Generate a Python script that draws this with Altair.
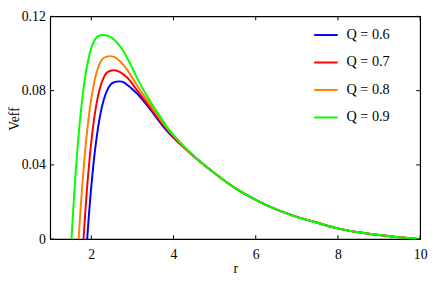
import altair as alt
import pandas as pd

# ---- data ----
q_labels = ["Q = 0.6", "Q = 0.7", "Q = 0.8", "Q = 0.9"]
q_colors = ["#0000ff", "#ff0000", "#ff8000", "#00ff00"]

r_q06 = [1.90, 1.939, 1.991, 2.054, 2.127, 2.21, 2.303, 2.408, 2.532, 2.687, 2.8, 2.885, 3.0, 3.12, 3.4, 3.84, 4.32, 5.0]
v_q06 = [0.0, 0.0122, 0.0263, 0.0408, 0.0543, 0.0661, 0.0751, 0.0812, 0.0843, 0.0850, 0.0843, 0.0829, 0.0808, 0.0783, 0.0708, 0.0583, 0.0480, 0.0355]

r_q07 = [1.811, 1.849, 1.899, 1.959, 2.029, 2.109, 2.199, 2.299, 2.419, 2.568, 2.70, 2.885, 3.12, 3.4, 3.84, 4.32, 5.0]
v_q07 = [0.0, 0.0130, 0.0282, 0.0436, 0.0581, 0.0707, 0.0805, 0.0869, 0.0903, 0.0910, 0.0900, 0.0868, 0.0800, 0.0718, 0.0592, 0.0482, 0.0355]

r_q08 = [1.692, 1.73, 1.78, 1.84, 1.91, 1.99, 2.08, 2.18, 2.30, 2.449, 2.55, 2.65, 2.77, 2.885, 3.12, 3.4, 3.84, 4.32, 5.0]
v_q08 = [0.0, 0.0133, 0.0289, 0.0451, 0.0606, 0.0744, 0.0855, 0.0932, 0.0976, 0.0986, 0.0982, 0.0968, 0.0941, 0.0908, 0.0826, 0.0735, 0.0598, 0.0483, 0.0355]

r_q09 = [1.518, 1.56, 1.62, 1.68, 1.75, 1.83, 1.92, 2.01, 2.10, 2.20, 2.29, 2.40, 2.50, 2.60, 2.73, 2.90, 3.0, 3.12, 3.4, 3.6, 3.84, 4.32, 5.0]
v_q09 = [0.0, 0.0160, 0.0361, 0.0532, 0.0697, 0.0843, 0.0961, 0.1036, 0.1079, 0.1097, 0.1100, 0.1096, 0.1084, 0.1065, 0.1030, 0.0965, 0.0920, 0.0865, 0.0755, 0.0685, 0.0605, 0.0485, 0.0355]

# common tail (all four curves coincide here)
r_tail = [5.5, 6.0, 6.5, 7.0, 7.5, 8.0, 8.5, 9.0, 9.5, 10.0]
v_tail = [0.0275, 0.0212, 0.0160, 0.0120, 0.0088, 0.0058, 0.0037, 0.0022, 0.0010, 0.0]

x_ticks = [2, 4, 6, 8, 10]
y_ticks = [0, 0.04, 0.08, 0.12]

rows = []
for lab, rs, vs in zip(q_labels, [r_q06, r_q07, r_q08, r_q09], [v_q06, v_q07, v_q08, v_q09]):
    for r, v in zip(rs + r_tail, vs + v_tail):
        rows.append({"r": r, "V": v, "Q": lab})
df = pd.DataFrame(rows)

W, H = 377, 227
FONT = "Liberation Serif"
xs = alt.Scale(domain=[1, 10], nice=False, zero=False)
ys = alt.Scale(domain=[0, 0.12], nice=False, zero=False)

x_axis = alt.Axis(values=x_ticks, domain=False, ticks=False, grid=False, labelFlush=False,
                  labelFont=FONT, labelFontSize=14, labelColor="black", labelPadding=9,
                  titleFont=FONT, titleFontSize=14, titleFontWeight="normal",
                  titleColor="black", titleY=34, titleBaseline="alphabetic")
y_axis = alt.Axis(values=y_ticks, domain=False, ticks=False, grid=False, labelFlush=False,
                  labelExpr="datum.value == 0 ? '0' : format(datum.value, '.2f')",
                  labelFont=FONT, labelFontSize=14, labelColor="black", labelPadding=5,
                  titleFont=FONT, titleFontSize=14, titleFontWeight="normal",
                  titleColor="black", titleX=-29, titleY=104, titleBaseline="bottom")

lines = alt.Chart(df).mark_line(strokeWidth=2, interpolate="monotone", clip=True).encode(
    x=alt.X("r:Q", scale=xs, title="r", axis=x_axis),
    y=alt.Y("V:Q", scale=ys, title="Veff", axis=y_axis),
    color=alt.Color("Q:N", scale=alt.Scale(domain=q_labels, range=q_colors),
                    legend=alt.Legend(orient="none", legendX=268, legendY=6, title=None,
                                      symbolType="stroke", symbolSize=576, symbolStrokeWidth=2,
                                      labelFont=FONT, labelFontSize=14.5, labelColor="black",
                                      labelOffset=8, rowPadding=8, padding=0)),
)

xt_df = pd.DataFrame({"r": x_ticks})
yt_df = pd.DataFrame({"V": y_ticks})
xb = alt.Chart(xt_df).mark_rule(color="black", strokeWidth=1).encode(
    x=alt.X("r:Q", scale=xs, title="r", axis=x_axis), y=alt.value(H), y2=alt.value(H - 4))
xtp = alt.Chart(xt_df).mark_rule(color="black", strokeWidth=1).encode(
    x=alt.X("r:Q", scale=xs, title="r", axis=x_axis), y=alt.value(0), y2=alt.value(4))
yl = alt.Chart(yt_df).mark_rule(color="black", strokeWidth=1).encode(
    y=alt.Y("V:Q", scale=ys, title="Veff", axis=y_axis), x=alt.value(0), x2=alt.value(4))
yr = alt.Chart(yt_df).mark_rule(color="black", strokeWidth=1).encode(
    y=alt.Y("V:Q", scale=ys, title="Veff", axis=y_axis), x=alt.value(W), x2=alt.value(W - 4))

chart = alt.layer(lines, xb, xtp, yl, yr).properties(
    width=W, height=H,
    autosize=alt.AutoSizeParams(type="none"),
    padding={"left": 43, "top": 6, "right": 8, "bottom": 35},
).configure_view(stroke="black", strokeWidth=1.2)

chart.save("out.html", embed_options={"renderer": "svg", "actions": False})
